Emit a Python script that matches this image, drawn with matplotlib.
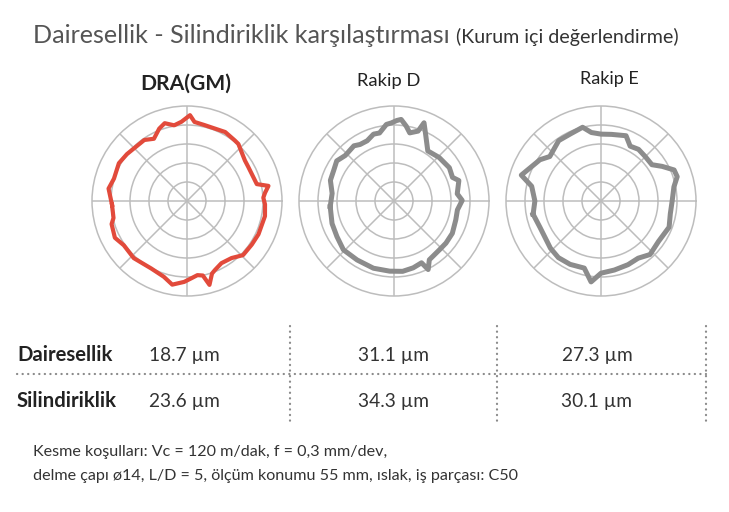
import numpy as np
import matplotlib.pyplot as plt
from matplotlib.lines import Line2D

plt.rcParams['font.family'] = ['Lato', 'DejaVu Sans']

# profile readings: angle (deg) and radius (ring units, outer ring = 5)
dra_ang = [-177, -167, -163, -153, -145, -133, -118, -107, -100, -92, -87, -82, -78, -75, -71, -68,
           -61, -52, -44, -34, -25, -11, -2.5, 2.5, 6, 10.5, 13.6, 29, 35, 48, 51.7, 61, 77, 84.6,
           88, 94, 99.6, 106, 111, 118, 125, 142, 151, 163, 171]
dra_r = [3.95, 3.97, 4.15, 4.26, 4.06, 4.11, 4.02, 4.17, 4.47, 4.26, 4.08, 3.94, 4.01, 4.57, 4.04, 3.92,
         3.74, 3.81, 4.10, 4.11, 4.15, 4.18, 4.11, 4.02, 4.13, 4.36, 3.78, 3.69, 3.72, 4.04, 4.06, 4.15,
         4.10, 4.18, 4.52, 4.18, 4.04, 4.26, 4.08, 3.71, 3.92, 4.01, 4.10, 4.02, 4.18]

d_ang = [-175, -160, -148, -136, -122, -107, -93.5, -83, -74, -66, -63.5, -59, -47, -39, -29, -17, -8,
         0.5, 6.5, 17.5, 22, 31, 44, 56, 64, 69, 71, 77, 80.7, 85, 88, 92, 95.7, 102, 107, 114, 121,
         126, 137, 145, 153, 162, 173]
d_r = [3.37, 3.47, 3.54, 3.70, 3.66, 3.70, 3.70, 3.73, 3.66, 3.56, 4.03, 3.61, 3.51, 3.52, 3.51, 3.40,
       3.37, 3.59, 3.35, 3.58, 3.32, 3.40, 3.30, 3.18, 3.82, 4.41, 3.89, 3.68, 3.99, 4.31, 4.24, 4.11,
       4.05, 3.66, 3.68, 3.47, 3.47, 3.59, 3.51, 3.68, 3.56, 3.52, 3.28]

e_ang = [-169, -157, -137, -127, -116, -104, -97, -90, -79, -67, -57, -47.5, -35, -21, -10.5, 0.5,
         11, 17.7, 23, 29.5, 35.5, 45, 54, 62, 69, 81, 90, 98, 104, 114.5, 125, 139, 146, 162, 168, 180]
e_r = [3.64, 3.50, 3.64, 3.73, 3.71, 3.64, 4.29, 3.80, 3.70, 3.64, 3.59, 3.82, 3.70, 3.84, 3.71, 3.75,
       3.91, 4.21, 4.18, 3.70, 3.29, 3.30, 3.36, 3.27, 3.68, 3.55, 3.52, 3.64, 4.00, 3.88, 3.88, 3.57,
       3.88, 4.41, 3.73, 3.48]

panel_names = ['DRA(GM)', 'Rakip D', 'Rakip E']
row_names = ['Dairesellik', 'Silindiriklik']
roundness = [18.7, 31.1, 27.3]
cylindricity = [23.6, 34.3, 30.1]

fig = plt.figure(figsize=(7.29, 5.12), dpi=100)
W, H = 729, 512

grid_c = '#bdbdbd'
profiles = [(dra_ang, dra_r, '#e24a3b', 3.0), (d_ang, d_r, '#8c8c8c', 3.6), (e_ang, e_r, '#8c8c8c', 3.6)]
centers = [187, 394, 601]
R = 95
cy = 201
for i, (ang, r, col, lw) in enumerate(profiles):
    cx = centers[i]
    ax = fig.add_axes([(cx - R) / W, (H - cy - R) / H, 2 * R / W, 2 * R / H], projection='polar')
    th = np.deg2rad(np.append(ang, ang[0]))
    rr = np.append(r, r[0])
    ax.plot(th, rr, color=col, lw=lw, solid_joinstyle='round', zorder=3)
    ax.set_ylim(0, 5)
    ax.set_yticks([1, 2, 3, 4])
    ax.set_xticks(np.deg2rad(np.arange(0, 360, 45)))
    ax.set_yticklabels([])
    ax.set_xticklabels([])
    ax.grid(True, color=grid_c, lw=1.1)
    ax.spines['polar'].set_color(grid_c)
    ax.spines['polar'].set_linewidth(1.1)
    ax.tick_params(length=0)

# overlay in pixel coords for text and table
ov = fig.add_axes([0, 0, 1, 1])
ov.set_xlim(0, W)
ov.set_ylim(H, 0)
ov.axis('off')

ov.text(33, 43, 'Dairesellik - Silindiriklik karşılaştırması', fontsize=18.1, color='#555555', va='baseline')
ov.text(456, 43, '(Kurum içi değerlendirme)', fontsize=14.1, color='#333333', va='baseline')

ov.text(186, 90, panel_names[0], fontsize=15.2, fontweight='bold', color='#222222', ha='center', va='baseline')
ov.text(389, 86, panel_names[1], fontsize=13.2, color='#222222', ha='center', va='baseline')
ov.text(609, 84, panel_names[2], fontsize=13, color='#222222', ha='center', va='baseline')

dot = dict(color='#8a8a8a', lw=1.6, linestyle=(0, (0.1, 2.4)), dash_capstyle='round')
for x in [290, 497, 706]:
    ov.add_line(Line2D([x, x], [326, 422], **dot))
ov.add_line(Line2D([17, 706], [374, 374], **dot))

val_x = [184, 394, 597]
for j, vals in enumerate([roundness, cylindricity]):
    y = 361 + j * 46
    ov.text(17, y, row_names[j], fontsize=14.6, fontweight='bold', color='#222222', va='baseline')
    for k, v in enumerate(vals):
        ov.text(val_x[k], y, f'{v} µm', fontsize=13.8, color='#333333', ha='center', va='baseline')

ov.text(33, 456, 'Kesme koşulları: Vc = 120 m/dak, f = 0,3 mm/dev,', fontsize=11.6, color='#333333', va='baseline')
ov.text(33, 480, 'delme çapı ø14, L/D = 5, ölçüm konumu 55 mm, ıslak, iş parçası: C50', fontsize=11.6,
        color='#333333', va='baseline')

fig.savefig('out.png', dpi=100, facecolor='white')
